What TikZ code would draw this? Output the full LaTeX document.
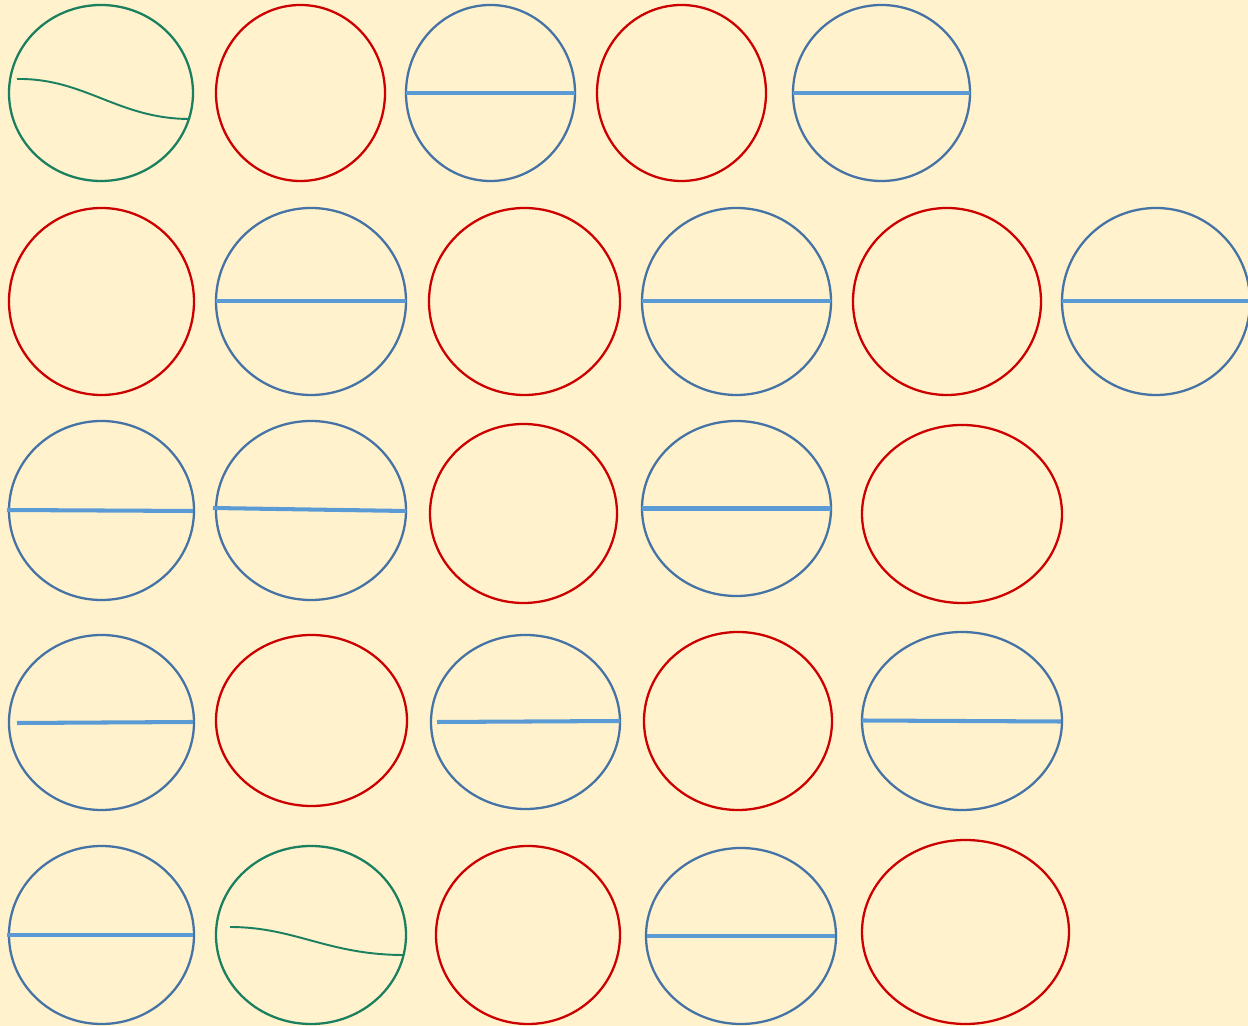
\documentclass[tikz,border=0pt]{standalone}
\usepackage{tikz}
\usetikzlibrary{calc}

\definecolor{paper}{RGB}{255,242,204}
\definecolor{ringgreen}{RGB}{27,128,95}
\definecolor{ringred}{RGB}{204,0,0}
\definecolor{ringblue}{RGB}{70,115,165}
\definecolor{barblue}{RGB}{91,155,213}

\begin{document}
\begin{tikzpicture}[x=0.02cm, y=-0.02cm,
    greenring/.style={draw=ringgreen, line width=1.3pt},
    redring/.style={draw=ringred, line width=1.3pt},
    bluering/.style={draw=ringblue, line width=1.3pt},
    bar/.style={draw=barblue, line width=2.3pt},
    wave/.style={draw=ringgreen, line width=1.1pt}]

  % =============== 背景 ===============
  \fill[paper] (0,0) rectangle (1248,1026);
  \useasboundingbox (0,0) rectangle (1248,1026);

  % =============== 第一行 ===============
  \draw[greenring] (101,93) ellipse [x radius=92, y radius=88];
  \draw[wave] (17,79) .. controls (85,78) and (118,119) .. (190,119);
  \draw[redring] (300.5,93) ellipse [x radius=84.5, y radius=88];
  \draw[bluering] (490.5,93) ellipse [x radius=84.5, y radius=88];
  \draw[bar] (406,93) -- (575,93);
  \draw[redring] (681.5,93) ellipse [x radius=84.5, y radius=88];
  \draw[bluering] (881.5,93) ellipse [x radius=88.5, y radius=88];
  \draw[bar] (793,93) -- (970,93);

  % =============== 第二行（红蓝交替） ===============
  \foreach \cx/\rx [count=\i] in {101.5/92.5, 311/95, 524.5/95.5, 736.5/94.5, 947/94, 1156/94} {
    \ifodd\i
      \draw[redring] (\cx,301.5) ellipse [x radius=\rx, y radius=93.5];
    \else
      \draw[bluering] (\cx,301.5) ellipse [x radius=\rx, y radius=93.5];
      \draw[bar] (\cx-\rx,301) -- (\cx+\rx,301);
    \fi
  }

  % =============== 第三行 ===============
  \draw[bluering] (101.5,510.5) ellipse [x radius=92.5, y radius=89.5];
  \draw[bar] (7,510) -- (193,511);
  \draw[bluering] (311,510.5) ellipse [x radius=95, y radius=89.5];
  \draw[bar] (213,508) -- (406,511);
  \draw[redring] (523.5,513.5) ellipse [x radius=93.5, y radius=89.5];
  \draw[bluering] (736.5,508.5) ellipse [x radius=94.5, y radius=87.5];
  \draw[bar] (642,508.5) -- (831,508.5);
  \draw[redring] (962,514) ellipse [x radius=100, y radius=89];

  % =============== 第四行 ===============
  \draw[bluering] (101.5,722.5) ellipse [x radius=92.5, y radius=87.5];
  \draw[bar] (17,723) -- (193,722);
  \draw[redring] (311.5,720.5) ellipse [x radius=95.5, y radius=85.5];
  \draw[bluering] (525.5,722) ellipse [x radius=94.5, y radius=87];
  \draw[bar] (437,722) -- (620,721);
  \draw[redring] (738,721) ellipse [x radius=94, y radius=89];
  \draw[bluering] (962,721) ellipse [x radius=100, y radius=89];
  \draw[bar] (862,720.5) -- (1061,721.5);

  % =============== 第五行 ===============
  \draw[bluering] (101.5,935) ellipse [x radius=92.5, y radius=89];
  \draw[bar] (7,935) -- (193,935);
  \draw[greenring] (311,935) ellipse [x radius=95, y radius=89];
  \draw[wave] (230,927) .. controls (295,927) and (328,955) .. (404,955);
  \draw[redring] (528,935) ellipse [x radius=92, y radius=89];
  \draw[bluering] (741,936) ellipse [x radius=95, y radius=88];
  \draw[bar] (647,936) -- (835,936);
  \draw[redring] (965.5,932) ellipse [x radius=103.5, y radius=92];

\end{tikzpicture}
\end{document}
